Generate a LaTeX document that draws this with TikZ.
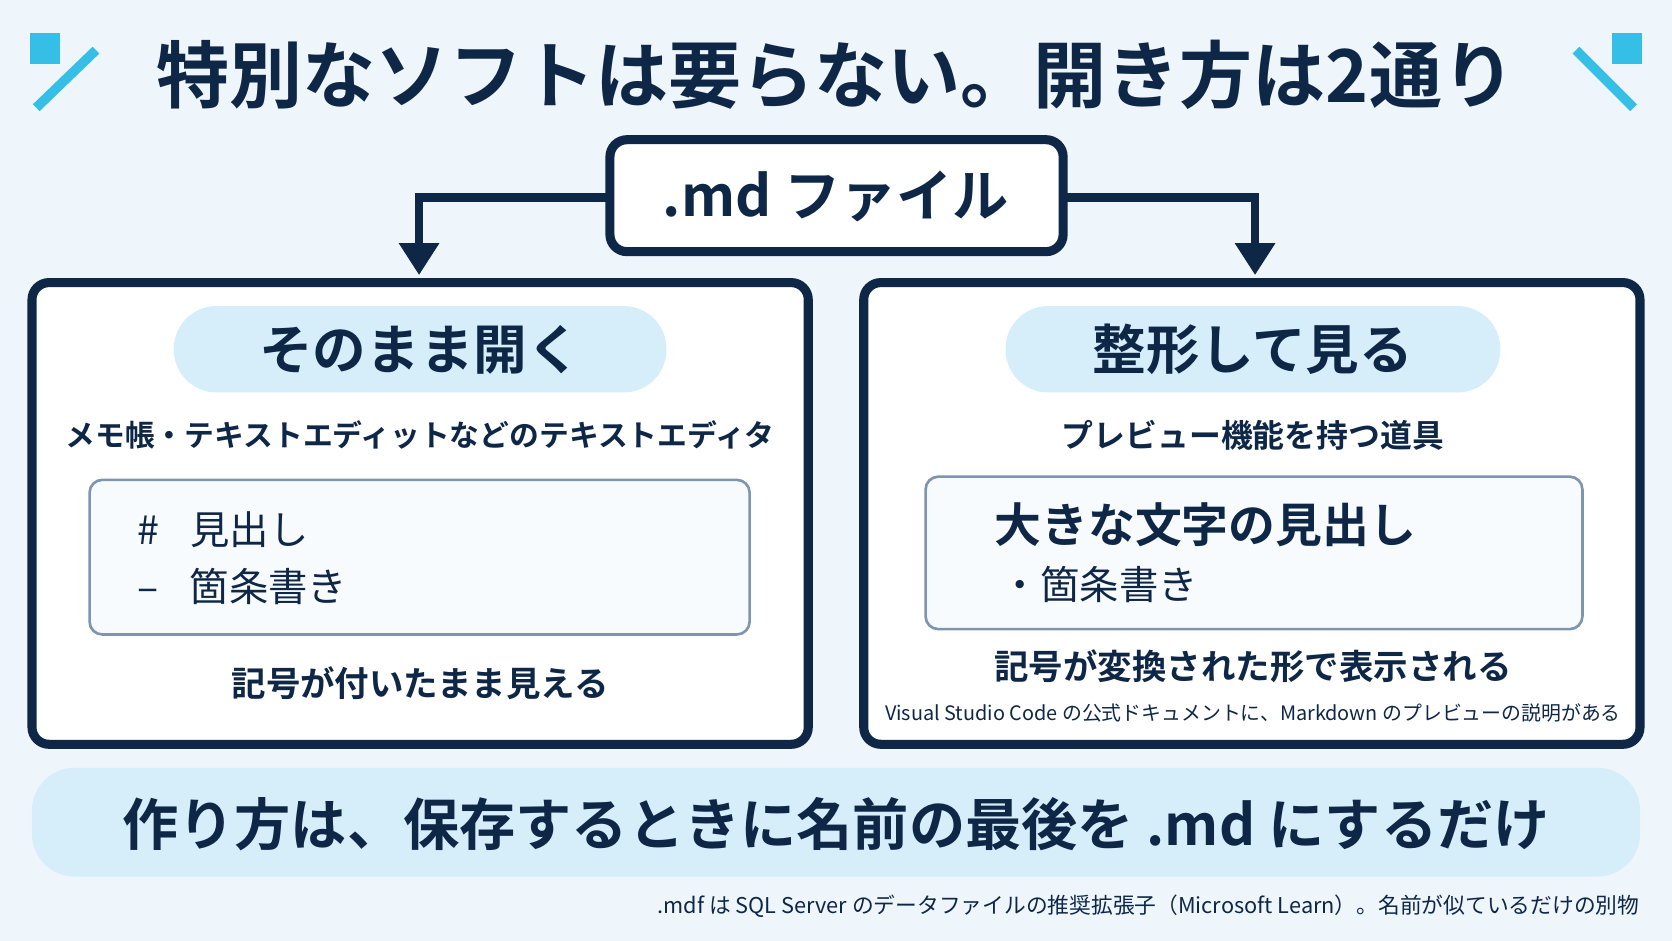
\documentclass[tikz,border=0pt]{standalone}
\usepackage{fontspec}
\setmainfont{Noto Sans CJK JP}[BoldFont={Noto Sans CJK JP Bold}]
\usetikzlibrary{arrows.meta}
\definecolor{navy}{HTML}{0F2747}
\definecolor{bg}{HTML}{EEF5FB}
\definecolor{pale}{HTML}{D6EEFA}
\definecolor{sky}{HTML}{35BFE6}
\definecolor{edge}{HTML}{7D95AE}
\begin{document}
\begin{tikzpicture}[x=0.1mm,y=-0.1mm,
	panel/.style = {draw=navy, line width=0.85mm, fill=white, rounded corners=1.6mm},
	pill/.style = {fill=pale, rounded corners=4mm},
	inner/.style = {draw=edge, line width=0.7pt, fill=white!60!bg, rounded corners=1.2mm},
	txt/.style = {text=navy, inner sep=0pt},
	arr/.style = {draw=navy, line width=0.8mm, -{Triangle[length=3mm,width=3.6mm]}}]
	\fill[bg] (0,0) rectangle (1568,882);
	\useasboundingbox (0,0) rectangle (1568,882);
	% corner marks
	\fill[sky] (28,31) rectangle (56,60);
	\draw[sky, line width=0.9mm] (34,101) -- (90,47);
	\fill[sky] (1512,31) rectangle (1540,60);
	\draw[sky, line width=0.9mm] (1478,47) -- (1532,101);
	\node[txt, font=\bfseries\fontsize{19.5}{19.5}\selectfont] (title) at (784,70) {特別なソフトは要らない。開き方は2通り};
	% top file node
	\draw[panel] (572,131) rectangle (997,236);
	\node[txt, font=\bfseries\fontsize{15}{15}\selectfont] (md) at (784,184) {.md ファイル};
	\coordinate (mdL) at (572,185);
	\coordinate (mdR) at (997,185);
	\coordinate (inL) at (393,258);
	\coordinate (inR) at (1177,258);
	\draw[arr] (mdL) -| (inL);
	\draw[arr] (mdR) -| (inR);
	% left panel
	\draw[panel] (30,265) rectangle (758,698);
	\fill[pill] (163,287) rectangle (625,368);
	\node[txt, font=\bfseries\fontsize{14.3}{14.3}\selectfont] (open) at (394,328) {そのまま開く};
	\node[txt, font=\bfseries\fontsize{7.95}{7.95}\selectfont] (editor) at (394,408) {メモ帳・テキストエディットなどのテキストエディタ};
	\draw[inner] (84,450) rectangle (703,595);
	\node[txt, anchor=west, font=\fontsize{10.5}{10.5}\selectfont] (raw1) at (128,497) {\#\hspace{0.8em}見出し};
	\node[txt, anchor=west, font=\fontsize{10.5}{10.5}\selectfont] (raw2) at (128,550) {–\hspace{0.8em}箇条書き};
	\node[txt, font=\bfseries\fontsize{9.2}{9.2}\selectfont] (capL) at (394,641) {記号が付いたまま見える};
	% right panel
	\draw[panel] (810,265) rectangle (1538,698);
	\fill[pill] (943,287) rectangle (1407,368);
	\node[txt, font=\bfseries\fontsize{14.3}{14.3}\selectfont] (view) at (1175,328) {整形して見る};
	\node[txt, font=\bfseries\fontsize{8.5}{8.5}\selectfont] (preview) at (1175,408) {プレビュー機能を持つ道具};
	\draw[inner] (868,447) rectangle (1484,590);
	\node[txt, anchor=west, font=\bfseries\fontsize{12.5}{12.5}\selectfont] (big) at (932,492) {大きな文字の見出し};
	\node[txt, anchor=west, font=\fontsize{10.5}{10.5}\selectfont] (list) at (938,548) {・箇条書き};
	\node[txt, font=\bfseries\fontsize{9.2}{9.2}\selectfont] (capR) at (1175,625) {記号が変換された形で表示される};
	\node[txt, font=\fontsize{5.3}{5.3}\selectfont] (note) at (1175,669) {Visual Studio Code の公式ドキュメントに、Markdown のプレビューの説明がある};
	% bottom banner
	\fill[pill] (30,720) rectangle (1538,822);
	\node[txt, font=\bfseries\fontsize{15}{15}\selectfont] (howto) at (784,773) {作り方は、保存するときに名前の最後を .md にするだけ};
	\node[txt, anchor=east, font=\fontsize{5.8}{5.8}\selectfont] (foot) at (1538,850) {.mdf は SQL Server のデータファイルの推奨拡張子（Microsoft Learn）。名前が似ているだけの別物};
\end{tikzpicture}
\end{document}
